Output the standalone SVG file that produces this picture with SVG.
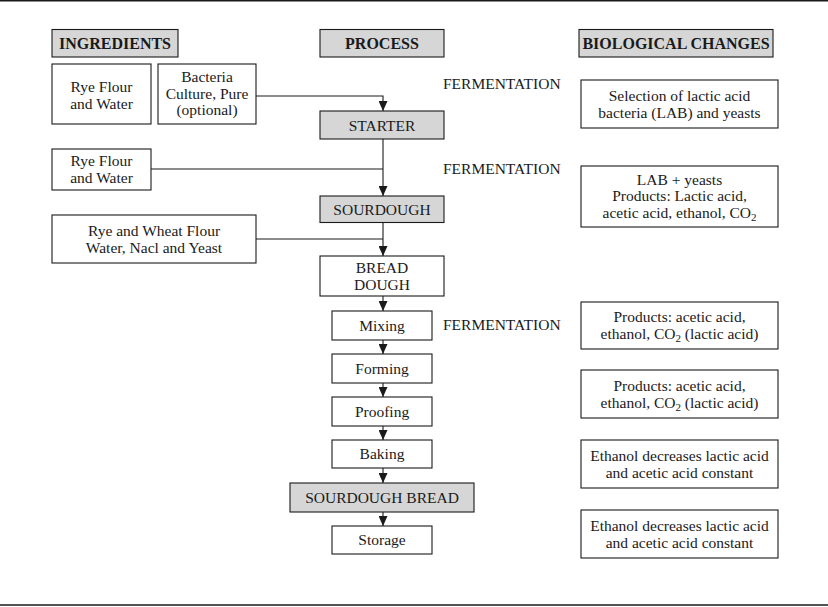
<svg xmlns="http://www.w3.org/2000/svg" width="828" height="607" viewBox="0 0 828 607">
<style>
.box{fill:#ffffff;stroke:#1a1a1a;stroke-width:1.1}
.gray{fill:#d6d6d6;stroke:#1a1a1a;stroke-width:1.1}
text{font-family:"Liberation Serif","Times New Roman",serif;font-size:15.5px;fill:#1a1a1a;text-anchor:middle}
.hdr{font-weight:bold;font-size:16px}
.lbl{text-anchor:start}
.conn{fill:none;stroke:#1a1a1a;stroke-width:1.1}
.sub{font-size:11px}
</style>
<defs>
<marker id="arr" viewBox="0 0 10 9" refX="10" refY="4.5" markerWidth="10" markerHeight="9" orient="auto" markerUnits="userSpaceOnUse">
<path d="M0,0 L10,4.5 L0,9 Z" fill="#1a1a1a"/>
</marker>
</defs>
<rect width="828" height="607" fill="#ffffff"/>
<line x1="0" y1="0.8" x2="828" y2="0.8" stroke="#1a1a1a" stroke-width="1.4"/>
<line x1="0" y1="605" x2="828" y2="605" stroke="#1a1a1a" stroke-width="1.4"/>

<g id="connectors">
<path class="conn" d="M256,96 H383 V111" marker-end="url(#arr)"/>
<path class="conn" d="M383,139 V196" marker-end="url(#arr)"/>
<path class="conn" d="M151,169 H383"/>
<path class="conn" d="M383,222 V256" marker-end="url(#arr)"/>
<path class="conn" d="M256,239 H383"/>
<path class="conn" d="M383,296 V311" marker-end="url(#arr)"/>
<path class="conn" d="M383,340 V354" marker-end="url(#arr)"/>
<path class="conn" d="M383,383 V397" marker-end="url(#arr)"/>
<path class="conn" d="M383,426 V440" marker-end="url(#arr)"/>
<path class="conn" d="M383,468 V483" marker-end="url(#arr)"/>
<path class="conn" d="M383,512 V526" marker-end="url(#arr)"/>
</g>

<g id="hdr-ingredients"><rect class="gray" x="52" y="29.5" width="126" height="27.5"/><text class="hdr" x="115" y="49">INGREDIENTS</text></g>
<g id="hdr-process"><rect class="gray" x="320" y="29.5" width="124" height="27.5"/><text class="hdr" x="382" y="49">PROCESS</text></g>
<g id="hdr-bio"><rect class="gray" x="579" y="29.5" width="194" height="27.5"/><text class="hdr" x="676" y="49">BIOLOGICAL CHANGES</text></g>

<g id="ing-rye1"><rect class="box" x="52" y="64" width="99" height="60"/><text x="101.5" y="91.5">Rye Flour</text><text x="101.5" y="109">and Water</text></g>
<g id="ing-bacteria"><rect class="box" x="158" y="64" width="98" height="60"/><text x="207" y="82">Bacteria</text><text x="207" y="98.5">Culture, Pure</text><text x="207" y="115">(optional)</text></g>
<g id="ing-rye2"><rect class="box" x="52" y="149" width="99" height="41"/><text x="101.5" y="166">Rye Flour</text><text x="101.5" y="183">and Water</text></g>
<g id="ing-ryewheat"><rect class="box" x="52" y="215" width="204" height="48"/><text x="154" y="235.5">Rye and Wheat Flour</text><text x="154" y="252.5">Water, Nacl and Yeast</text></g>

<g id="p-starter"><rect class="gray" x="320" y="111" width="124" height="28"/><text x="382" y="130.5">STARTER</text></g>
<g id="p-sourdough"><rect class="gray" x="320" y="196" width="124" height="26.5"/><text x="382" y="214.5">SOURDOUGH</text></g>
<g id="p-breaddough"><rect class="box" x="320" y="256" width="124" height="40"/><text x="382" y="272.5">BREAD</text><text x="382" y="289.5">DOUGH</text></g>
<g id="p-mixing"><rect class="box" x="332" y="311" width="100" height="29"/><text x="382" y="330.5">Mixing</text></g>
<g id="p-forming"><rect class="box" x="332" y="354" width="100" height="29"/><text x="382" y="373.5">Forming</text></g>
<g id="p-proofing"><rect class="box" x="332" y="397" width="100" height="29"/><text x="382" y="416.5">Proofing</text></g>
<g id="p-baking"><rect class="box" x="332" y="440" width="100" height="28"/><text x="382" y="459">Baking</text></g>
<g id="p-sourdoughbread"><rect class="gray" x="290" y="483" width="184" height="29"/><text x="382" y="502.5">SOURDOUGH BREAD</text></g>
<g id="p-storage"><rect class="box" x="332" y="526" width="100" height="28"/><text x="382" y="545">Storage</text></g>

<g id="ferm1"><text class="lbl" x="443" y="89">FERMENTATION</text></g>
<g id="ferm2"><text class="lbl" x="443" y="174">FERMENTATION</text></g>
<g id="ferm3"><text class="lbl" x="443" y="330">FERMENTATION</text></g>

<g id="b-selection"><rect class="box" x="581" y="80" width="197" height="48"/><text x="679.5" y="100.5">Selection of lactic acid</text><text x="679.5" y="117.5">bacteria (LAB) and yeasts</text></g>
<g id="b-lab"><rect class="box" x="581" y="166" width="197" height="61"/><text x="679.5" y="184.5">LAB + yeasts</text><text x="679.5" y="201">Products: Lactic acid,</text><text x="679.5" y="217.5">acetic acid, ethanol, CO<tspan class="sub" dy="3">2</tspan></text></g>
<g id="b-products1"><rect class="box" x="581" y="302" width="197" height="47"/><text x="679.5" y="322">Products: acetic acid,</text><text x="679.5" y="339">ethanol, CO<tspan class="sub" dy="3">2</tspan><tspan dy="-3"> (lactic acid)</tspan></text></g>
<g id="b-products2"><rect class="box" x="581" y="370" width="197" height="48"/><text x="679.5" y="390.5">Products: acetic acid,</text><text x="679.5" y="407.5">ethanol, CO<tspan class="sub" dy="3">2</tspan><tspan dy="-3"> (lactic acid)</tspan></text></g>
<g id="b-ethanol1"><rect class="box" x="581" y="440" width="197" height="48"/><text x="679.5" y="460.5">Ethanol decreases lactic acid</text><text x="679.5" y="477.5">and acetic acid constant</text></g>
<g id="b-ethanol2"><rect class="box" x="581" y="510" width="197" height="48"/><text x="679.5" y="530.5">Ethanol decreases lactic acid</text><text x="679.5" y="547.5">and acetic acid constant</text></g>
</svg>
